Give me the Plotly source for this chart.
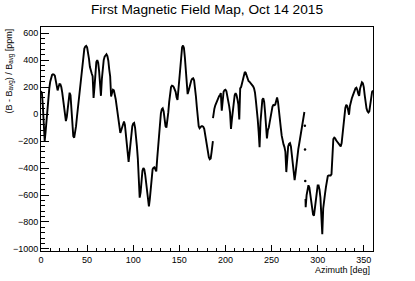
import plotly.graph_objects as go

# Segment 1 (0 - 186.4 deg)
az_a = [0, 1, 2, 3, 4, 5, 6, 7, 8, 9, 10, 11, 12, 13, 14, 15, 16, 17, 18, 19,
        20, 21, 22, 23, 24, 25, 26, 27, 28, 29, 30, 31, 32, 33, 34, 35, 36, 37, 38, 39,
        40, 41, 42, 43, 44, 45, 46, 47, 48, 49, 50, 51, 52, 53, 54, 55, 56, 57, 58, 59,
        60, 61, 62, 63, 64, 65, 66, 67, 68, 69, 70, 71, 72, 73, 74, 75, 76, 77, 78, 79,
        80, 81, 82, 83, 84, 85, 86, 87, 88, 89, 90, 91, 92, 93, 94, 95, 96, 97, 98, 99,
        100, 101, 102, 103, 104, 105, 106, 107, 108, 109, 110, 111, 112, 113, 114, 115, 116, 117, 118, 119,
        120, 121, 122, 123, 124, 125, 126, 127, 128, 129, 130, 131, 132, 133, 134, 135, 136, 137, 138, 139,
        140, 141, 142, 143, 144, 145, 146, 147, 148, 149, 150, 151, 152, 153, 154, 155, 156, 157, 158, 159,
        160, 161, 162, 163, 164, 165, 166, 167, 168, 169, 170, 171, 172, 173, 174, 175, 176, 177, 178, 179,
        180, 181, 182, 183, 184, 185, 186, 186.4]
val_a = [170, 155, 60, -90, -200, -130, -40, 40, 120, 190, 240, 275, 290, 295, 293, 285, 240, 185, 175, 200,
         222, 220, 200, 160, 100, 40, -20, -52, -20, 50, 130, 158, 140, 60, -60, -165, -175, -140, -90, -20,
         50, 120, 190, 260, 330, 400, 450, 485, 500, 505, 495, 460, 410, 350, 310, 300, 280, 120, 200, 320,
         385, 400, 380, 320, 220, 135, 260, 350, 400, 425, 440, 443, 430, 395, 330, 280, 130, 165, 180, 175,
         150, 110, 60, 10, -50, -110, -140, -120, -90, -62, -55, -80, -150, -230, -310, -355, -290, -210, -140, -90,
         -70, -65, -100, -160, -240, -330, -440, -620, -580, -490, -420, -400, -410, -450, -520, -600, -670, -685, -630, -540,
         -460, -410, -398, -395, -410, -425, -330, -230, -140, -60, 5, 35, 42, 20, -40, -90, -100, -60, 10, 90,
         160, 200, 210, 208, 198, 185, 165, 125, 105, 180, 270, 360, 440, 495, 508, 490, 420, 320, 220, 148,
         170, 200, 230, 250, 262, 265, 250, 200, 130, 50, -30, -90, -105, -95, -90, -90, -95, -110, -150, -200,
         -250, -290, -320, -335, -330, -280, -215, -200]

# Segment 2 (186.5 - 285.6 deg)
az_b = [186.5, 187, 188, 189, 190, 191, 192, 193, 194, 195, 196, 197, 198, 199,
        200, 201, 202, 203, 204, 205, 206, 207, 208, 209, 210, 211, 212, 213, 214, 215, 216, 217, 218, 219,
        220, 221, 222, 223, 224, 225, 226, 227, 228, 229, 230, 231, 232, 233, 234, 235, 236, 237, 238, 239,
        240, 241, 242, 243, 244, 245, 246, 247, 248, 249, 250, 251, 252, 253, 254, 255, 256, 257, 258, 259,
        260, 261, 262, 263, 264, 265, 266, 267, 268, 269, 270, 271, 272, 273, 274, 275, 276, 277, 278, 279,
        280, 281, 282, 283, 284, 285, 285.6]
val_b = [-30, 5, 40, 65, 85, 100, 115, 130, 142, 155, 25, 130, 165, 177,
         180, 170, 140, 100, 60, 10, -110, -40, 40, 100, 140, 155, 140, 110, 70, -40, 190, 200, 230, 270,
         300, 312, 305, 285, 260, 245, 240, 232, 225, 217, 205, 190, 160, 100, 40, -40, -130, -245, -60, 50,
         105, 117, 90, 10, -60, -180, -120, -100, -60, -10, 30, 55, 68, 65, 70, 95, 122, 90, 40, -30,
         -100, -160, -200, -225, -245, -280, -430, -290, -240, -220, -215, -240, -300, -380, -460, -490, -440, -370, -310, -260,
         -220, -180, -140, -100, -50, 0, 15]

# Sparse points in the gap near 286 deg
az_c = [286.1, 286.3, 286.5]
val_c = [-86, -262, -496]

# Segment 3 (286.8 - 360 deg)
az_d = [286.8, 287, 288, 289, 290, 291, 292, 293, 294, 295, 296, 297, 298, 299,
        300, 301, 302, 303, 304, 305, 306, 307, 308, 309, 310, 311, 312, 313, 314, 315, 316, 317, 318, 319,
        320, 321, 322, 323, 324, 325, 326, 327, 328, 329, 330, 331, 332, 333, 334, 335, 336, 337, 338, 339,
        340, 341, 342, 343, 344, 345, 346, 347, 348, 349, 350, 351, 352, 353, 354, 355, 356, 357, 358, 359, 360]
val_d = [-630, -690, -600, -545, -528, -545, -600, -660, -715, -745, -752, -700, -620, -560,
         -530, -530, -560, -620, -740, -890, -700, -620, -590, -540, -490, -460, -455, -455, -455, -445, -290, -185, -175, -180,
         -195, -205, -215, -228, -238, -240, -215, -150, -70, 0, 45, 68, 60, 30, -5, 60, 105, 115, 135, 155,
         172, 190, 195, 180, 150, 135, 190, 225, 235, 228, 200, 140, 75, 40, 20, 12, 20, 70, 130, 165, 175]

x_ticks = [0, 50, 100, 150, 200, 250, 300, 350]
y_ticks = [-1000, -800, -600, -400, -200, 0, 200, 400, 600]

fig = go.Figure()
for xs, ys in [(az_a, val_a), (az_b, val_b), (az_d, val_d)]:
    fig.add_trace(go.Scatter(x=xs, y=ys, mode="lines",
                             line=dict(color="black", width=1.9),
                             hoverinfo="skip"))
fig.add_trace(go.Scatter(x=az_c, y=val_c, mode="markers",
                         marker=dict(color="black", size=2.5), hoverinfo="skip"))

font_family = "Liberation Sans, Arial, Helvetica, sans-serif"

fig.update_layout(
    template="none",
    width=415, height=281,
    margin=dict(l=41, r=42, t=27, b=30, autoexpand=False),
    plot_bgcolor="white", paper_bgcolor="white",
    showlegend=False,
    font=dict(family=font_family, size=9, color="black"),
    title=dict(text="First Magnetic Field Map, Oct 14 2015",
               x=0.5, xanchor="center", xref="paper", y=1 - 9 / 281, yanchor="middle", yref="container",
               font=dict(family=font_family, size=13.7, color="black")),
    xaxis=dict(range=[0, 360], tickmode="array", tickvals=x_ticks, automargin=False,
               ticks="inside", ticklen=6, tickcolor="black", tickwidth=1,
               showline=True, linecolor="black", linewidth=1, mirror=True,
               showgrid=False, zeroline=False,
               minor=dict(ticks="inside", ticklen=3, dtick=10, tick0=0,
                          tickcolor="black", showgrid=False)),
    yaxis=dict(range=[-1015, 645], tickmode="array", tickvals=y_ticks, automargin=False,
               ticks="inside", ticklen=8, tickcolor="black", tickwidth=1,
               showline=True, linecolor="black", linewidth=1, mirror=True,
               showgrid=False, zeroline=False,
               minor=dict(ticks="inside", ticklen=4, dtick=40, tick0=0,
                          tickcolor="black", showgrid=False)),
    annotations=[
        dict(text="Azimuth [deg]", xref="paper", yref="paper", x=1, y=0,
             xanchor="right", yanchor="middle", yshift=-18.5, xshift=-1,
             showarrow=False, font=dict(family=font_family, size=9, color="black")),
        dict(text="(B - B<sub>avg</sub>) / B<sub>avg</sub> [ppm]", xref="paper", yref="paper",
             x=0, y=1, xanchor="center", yanchor="top", xshift=-32, textangle=-90,
             showarrow=False, font=dict(family=font_family, size=9, color="black")),
    ],
)

fig.write_html("out.html", config={"displayModeBar": False},
               post_script="document.body.style.margin='0px';")
